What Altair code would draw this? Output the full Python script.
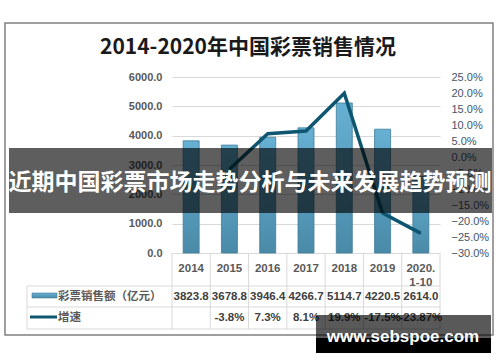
import altair as alt
import pandas as pd

categories = ["2014", "2015", "2016", "2017", "2018", "2019", "2020.\n1-10"]
sales = [3823.8, 3678.8, 3946.4, 4266.7, 5114.7, 4220.5, 2614.0]
growth = [None, -3.8, 7.3, 8.1, 19.9, -17.5, -23.87]
growth_labels = ["", "-3.8%", "7.3%", "8.1%", "19.9%", "-17.5%", "-23.87%"]
left_ticks = [0, 1000, 2000, 3000, 4000, 5000, 6000]
right_ticks = [-30, -25, -20, -15, -10, -5, 0, 5, 10, 15, 20, 25]
title_text = "2014-2020年中国彩票销售情况"
series_names = ["彩票销售额（亿元）", "增速"]
banner_text = "近期中国彩票市场走势分析与未来发展趋势预测"
watermark_text = "www.sebspoe.com"

df = pd.DataFrame({"cat": categories, "sales": sales, "growth": growth, "glabel": growth_labels})
df["slabel"] = df["sales"].map(lambda v: f"{v:.1f}")
dfg = df.dropna(subset=["growth"])
one = pd.DataFrame({"a": [0]})

W, H = 268, 176
CJK = "Noto Sans CJK SC"
NUM = "Liberation Sans"
LINE_C = "#0e5670"
GRID_C = "#d9d9d9"

xscale = alt.Scale(domain=categories, paddingInner=0, paddingOuter=0)
X = alt.X("cat:N", scale=xscale, axis=None)

bar_grad = alt.Gradient(
    gradient="linear",
    stops=[alt.GradientStop(color="#66b0d3", offset=0),
           alt.GradientStop(color="#4a8aa8", offset=1)],
    x1=0, x2=0, y1=0, y2=1,
)

frame = alt.Chart(one).mark_rect(filled=False, stroke="#808080", strokeWidth=1.5).encode(
    x=alt.value(-167), x2=alt.value(321), y=alt.value(-54), y2=alt.value(258)
)

title = alt.Chart(one).mark_text(
    text=title_text, font=CJK, fontSize=21, fontWeight="bold", color="#1a1a1a", baseline="middle"
).encode(x=alt.value(76), y=alt.value(-29))

bars = alt.Chart(df).mark_bar(size=16, color=bar_grad, stroke="#3f7d99", strokeWidth=0.8).encode(
    x=X,
    y=alt.Y("sales:Q", scale=alt.Scale(domain=[0, 6000]),
            axis=alt.Axis(values=left_ticks, format=".1f", grid=True, gridColor=GRID_C,
                          domain=False, ticks=False, labelPadding=10, labelFont=NUM,
                          labelFontSize=11, labelColor="#595959", labelFontWeight="bold",
                          title=None)),
)

line = alt.Chart(dfg).mark_line(color=LINE_C, strokeWidth=3.5).encode(
    x=X,
    y=alt.Y("growth:Q", scale=alt.Scale(domain=[-30, 25]),
            axis=alt.Axis(values=right_ticks, labelExpr="format(datum.value, '.1f') + '%'",
                          orient="right", grid=False, domain=False, ticks=False,
                          labelPadding=11, labelFont=NUM, labelFontSize=11,
                          labelColor="#44546a", title=None)),
)

# table lines
vlines = alt.Chart(df).mark_rule(color=GRID_C, strokeWidth=1).encode(
    x=alt.X("cat:N", scale=xscale, axis=None, bandPosition=0),
    y=alt.value(176), y2=alt.value(252),
)
vright = alt.Chart(one).mark_rule(color=GRID_C, strokeWidth=1).encode(
    x=alt.value(W), y=alt.value(176), y2=alt.value(252)
)
vleft = alt.Chart(one).mark_rule(color=GRID_C, strokeWidth=1).encode(
    x=alt.value(-145), y=alt.value(209), y2=alt.value(252)
)
hlines = alt.Chart(pd.DataFrame({"yy": [209, 230, 252]})).mark_rule(color=GRID_C, strokeWidth=1).encode(
    x=alt.value(-145), x2=alt.value(W), y=alt.Y("yy:Q", scale=None)
)

header = alt.Chart(df).mark_text(
    font=NUM, fontSize=11.5, fontWeight="bold", color="#595959", lineBreak="\n", lineHeight=14,
    baseline="middle"
).encode(x=X, y=alt.value(192), text="cat:N")

row1 = alt.Chart(df).mark_text(
    font=NUM, fontSize=11.5, fontWeight="bold", color="#404040", baseline="middle"
).encode(x=X, y=alt.value(219.5), text="slabel:N")

row2 = alt.Chart(df).mark_text(
    font=NUM, fontSize=11.5, fontWeight="bold", color="#404040", baseline="middle"
).encode(x=X, y=alt.value(241), text="glabel:N")

leg_rect = alt.Chart(one).mark_rect(color=bar_grad, stroke="#3f7d99", strokeWidth=0.6).encode(
    x=alt.value(-140), x2=alt.value(-115), y=alt.value(216), y2=alt.value(221)
)
leg_line = alt.Chart(one).mark_rule(color=LINE_C, strokeWidth=3).encode(
    x=alt.value(-142), x2=alt.value(-115), y=alt.value(240)
)
name1 = alt.Chart(one).mark_text(
    text=series_names[0], font=CJK, fontSize=11.5, fontWeight="bold", color="#595959",
    align="left", baseline="middle"
).encode(x=alt.value(-114), y=alt.value(219.5))
name2 = alt.Chart(one).mark_text(
    text=series_names[1], font=CJK, fontSize=11.5, fontWeight="bold", color="#595959",
    align="left", baseline="middle"
).encode(x=alt.value(-114), y=alt.value(241))

banner = alt.Chart(one).mark_rect(color="black", opacity=0.63).encode(
    x=alt.value(-163), x2=alt.value(320), y=alt.value(71), y2=alt.value(136)
)
banner_t = alt.Chart(one).mark_text(
    text=banner_text, font=CJK, fontSize=23, fontWeight="bold", color="white", baseline="middle"
).encode(x=alt.value(78), y=alt.value(106))

wm_gray = alt.Chart(one).mark_rect(color="black", opacity=0.65).encode(
    x=alt.value(144), x2=alt.value(319), y=alt.value(238), y2=alt.value(261)
)
wm_black = alt.Chart(one).mark_rect(color="black", opacity=1).encode(
    x=alt.value(144), x2=alt.value(319), y=alt.value(261), y2=alt.value(276)
)
wm_text = alt.Chart(one).mark_text(
    text=watermark_text, font=NUM, fontSize=17, fontWeight="bold", color="white",
    baseline="alphabetic"
).encode(x=alt.value(231), y=alt.value(265))

chart = alt.layer(
    frame, title, bars, line, vlines, vright, vleft, hlines, header, row1, row2,
    leg_rect, leg_line, name1, name2, banner, banner_t, wm_gray, wm_black, wm_text
).resolve_scale(y="independent").properties(
    width=W, height=H, autosize="none",
    padding={"left": 172, "top": 77, "right": 60, "bottom": 109},
    background="white",
).configure_view(stroke=None)

chart.save("out.html", embed_options={"renderer": "svg", "actions": False})
